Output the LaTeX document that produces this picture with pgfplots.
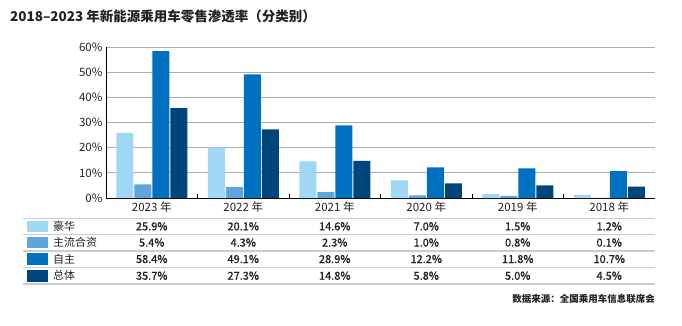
\documentclass[border=0pt]{standalone}
\usepackage{fontspec}
\setmainfont{Noto Sans CJK SC}
\newfontfamily\semib[FakeBold=0.9]{Noto Sans CJK SC}
\usepackage{pgfplots}
\pgfplotsset{compat=1.18}
\usepackage{pgfplotstable}
\definecolor{cLux}{HTML}{A0D7F5}
\definecolor{cJV}{HTML}{5FA5DC}
\definecolor{cOwn}{HTML}{0070C0}
\definecolor{cTot}{HTML}{00467A}
\definecolor{txt}{HTML}{222222}
\pgfplotstableread{
x lux jv own total
0 25.9 5.4 58.4 35.7
1 20.1 4.3 49.1 27.3
2 14.6 2.3 28.9 14.8
3 7.0 1.0 12.2 5.8
4 1.5 0.8 11.8 5.0
5 1.2 0.1 10.7 4.5
}\data
\begin{document}
\begin{tikzpicture}
\path[use as bounding box] (0,0) rectangle (682pt,-325pt);
\node[anchor=west, inner sep=0pt, font=\bfseries\fontsize{13.5}{14}\selectfont, text=txt] at (10pt,-16pt) {2018–2023 年新能源乘用车零售渗透率（分类别）};
\begin{axis}[
  at={(106pt,-198pt)}, anchor=south west,
  width=549pt, height=151pt, scale only axis,
  xmin=-0.5, xmax=5.5, ymin=0, ymax=60,
  ybar=1pt, bar width=17pt,
  axis x line*=bottom, axis y line*=left,
  axis line style={-, black, line width=0.9pt},
  ytick={0,10,...,60},
  yticklabel={\pgfmathprintnumber{\tick}\%},
  ymajorgrids, grid style={gray!65, line width=0.8pt},
  xtick={0,...,5},
  xticklabels={2023 年,2022 年,2021 年,2020 年,2019 年,2018 年},
  major tick length=0pt,
  xtick style={draw=none}, ytick style={draw=none},
  tick label style={font=\fontsize{11.5}{12}\selectfont, text=txt},
  /pgf/number format/assume math mode=true,
  clip=false,
]
\addplot[fill=cLux, draw=none] table[x=x,y=lux]{\data};
\addplot[fill=cJV, draw=none] table[x=x,y=jv]{\data};
\addplot[fill=cOwn, draw=none] table[x=x,y=own]{\data};
\addplot[fill=cTot, draw=none] table[x=x,y=total]{\data};
\end{axis}
\foreach \i in {1,...,5}
  \draw[black, line width=0.8pt] ({106pt+91.5pt*\i},-198pt) -- ({106pt+91.5pt*\i},-194pt);
\foreach \y in {218.3,234.3,250.7,267.3,284}
  \draw[line width=1.6pt, gray!40] (23pt,-\y pt) -- (655pt,-\y pt);
\foreach \c/\lab/\yc/\vals in {
  cLux/豪华/226.3/{25.9,20.1,14.6,7.0,1.5,1.2},
  cJV/主流合资/242.5/{5.4,4.3,2.3,1.0,0.8,0.1},
  cOwn/自主/259/{58.4,49.1,28.9,12.2,11.8,10.7},
  cTot/总体/275.7/{35.7,27.3,14.8,5.8,5.0,4.5}}{
  \fill[\c] (27pt,{-\yc pt+5.8pt}) rectangle (48pt,{-\yc pt-5.8pt});
  \node[anchor=west, inner sep=0pt, font=\fontsize{11}{12}\selectfont, text=txt] at (53pt,-\yc pt) {\lab};
  \foreach \v [count=\i from 0] in \vals
    \node[inner sep=0pt, font=\semib\fontsize{11}{12}\selectfont, text=txt] at ({106pt+91.5pt*(\i+0.5)},-\yc pt) {\v\%};
}
\node[anchor=east, inner sep=0pt, font=\bfseries\fontsize{9.5}{10}\selectfont, text=txt] at (655pt,-299pt) {数据来源：全国乘用车信息联席会};
\end{tikzpicture}
\end{document}
